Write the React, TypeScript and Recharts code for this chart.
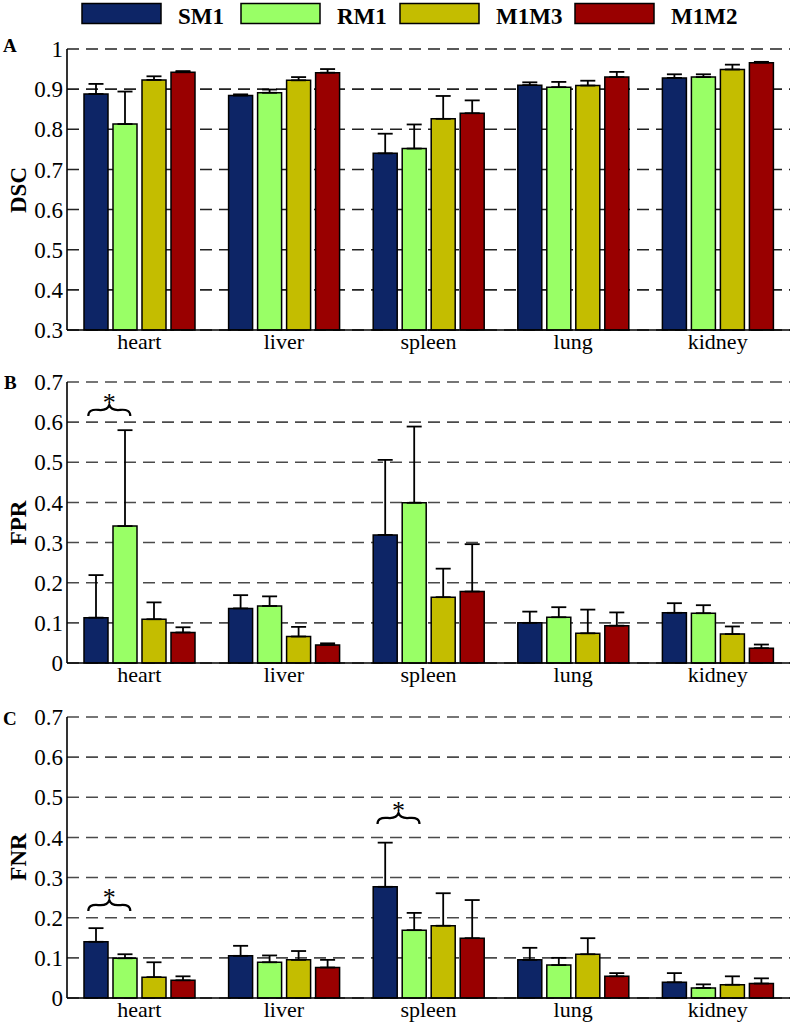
import {
  Bar,
  BarChart,
  CartesianGrid,
  ErrorBar,
  ReferenceDot,
  XAxis,
  YAxis,
} from "recharts";

const organs = ["heart", "liver", "spleen", "lung", "kidney"];
const methods = ["SM1", "RM1", "M1M3", "M1M2"];

// rows follow `methods`, columns follow `organs`
const dscMean = [
  [0.888, 0.884, 0.74, 0.91, 0.928],
  [0.813, 0.891, 0.752, 0.905, 0.93],
  [0.923, 0.922, 0.826, 0.909, 0.949],
  [0.942, 0.941, 0.84, 0.93, 0.966],
];
const dscErr = [
  [0.025, 0.003, 0.049, 0.007, 0.009],
  [0.081, 0.008, 0.06, 0.013, 0.007],
  [0.009, 0.008, 0.057, 0.012, 0.012],
  [0.003, 0.009, 0.032, 0.013, 0.002],
];

const fprMean = [
  [0.113, 0.136, 0.319, 0.1, 0.125],
  [0.341, 0.142, 0.399, 0.114, 0.124],
  [0.109, 0.066, 0.164, 0.074, 0.072],
  [0.076, 0.045, 0.178, 0.093, 0.037],
];
const fprErr = [
  [0.106, 0.033, 0.187, 0.028, 0.024],
  [0.239, 0.024, 0.19, 0.025, 0.02],
  [0.042, 0.024, 0.071, 0.059, 0.019],
  [0.013, 0.004, 0.118, 0.033, 0.009],
];

const fnrMean = [
  [0.14, 0.105, 0.277, 0.095, 0.039],
  [0.099, 0.089, 0.169, 0.082, 0.025],
  [0.052, 0.095, 0.18, 0.109, 0.033],
  [0.044, 0.076, 0.149, 0.054, 0.036],
];
const fnrErr = [
  [0.034, 0.025, 0.11, 0.03, 0.023],
  [0.01, 0.017, 0.043, 0.018, 0.009],
  [0.037, 0.022, 0.081, 0.04, 0.021],
  [0.01, 0.019, 0.095, 0.008, 0.013],
];

const dscTicks = [0.3, 0.4, 0.5, 0.6, 0.7, 0.8, 0.9, 1];
const rateTicks = [0, 0.1, 0.2, 0.3, 0.4, 0.5, 0.6, 0.7];

// significance braces (over SM1 vs RM1)
const fprStars = [{ organ: "heart", y: 0.643 }];
const fnrStars = [
  { organ: "heart", y: 0.244 },
  { organ: "spleen", y: 0.461 },
];

const colors = ["#0d2566", "#99ff66", "#c4bd00", "#990000"];
const serif = "'Liberation Serif', 'Times New Roman', serif";

function buildRows(mean: number[][], err: number[][]) {
  return organs.map((organ, i) => {
    const row: Record<string, any> = { organ };
    methods.forEach((m, k) => {
      row[m] = mean[k][i];
      row[m + "Err"] = [0, err[k][i]];
    });
    return row;
  });
}

function Brace(props: any) {
  const { cx, cy } = props;
  if (cx == null || cy == null) return <g />;
  const x = cx - 30;
  const y = cy;
  const d =
    `M ${x - 21} ${y + 11} Q ${x - 21} ${y + 4} ${x - 11} ${y + 5} ` +
    `Q ${x - 2} ${y + 6} ${x} ${y} Q ${x + 2} ${y + 6} ${x + 11} ${y + 5} ` +
    `Q ${x + 21} ${y + 4} ${x + 21} ${y + 11}`;
  return (
    <g>
      <path d={d} fill="none" stroke="#000" strokeWidth={2.2} />
      <text x={x} y={y + 6} textAnchor="middle" fontFamily={serif} fontSize={26}>
        *
      </text>
    </g>
  );
}

type PanelProps = {
  top: number;
  data: Record<string, any>[];
  domain: [number, number];
  ticks: number[];
  stars: { organ: string; y: number }[];
  gridColor: string;
};

function Panel({ top, data, domain, ticks, stars, gridColor }: PanelProps) {
  return (
    <div style={{ position: "absolute", left: 0, top }}>
      <BarChart
        width={800}
        height={331}
        data={data}
        margin={{ top: 20, right: 10, bottom: 0, left: 0 }}
        barSize={24}
        barGap={5}
      >
        <CartesianGrid
          vertical={false}
          stroke={gridColor}
          strokeWidth={1.6}
          strokeDasharray="12 7"
        />
        <XAxis
          dataKey="organ"
          height={30}
          tickLine={false}
          tickSize={0}
          tickMargin={3}
          axisLine={{ stroke: "#000", strokeWidth: 1.6 }}
          tick={{ fill: "#000", fontSize: 22, fontFamily: serif }}
        />
        <YAxis
          width={67}
          domain={domain}
          ticks={ticks}
          interval={0}
          tickLine={false}
          tickSize={0}
          tickMargin={4}
          axisLine={{ stroke: "#000", strokeWidth: 1.6 }}
          tick={{ fill: "#000", fontSize: 23, fontFamily: serif }}
        />
        {methods.map((m, k) => (
          <Bar
            key={m}
            dataKey={m}
            fill={colors[k]}
            stroke="#000"
            strokeWidth={1.5}
            isAnimationActive={false}
          >
            <ErrorBar
              dataKey={m + "Err"}
              direction="y"
              width={7.5}
              stroke="#000"
              strokeWidth={1.8}
              isAnimationActive={false}
            />
          </Bar>
        ))}
        {stars.map((s) => (
          <ReferenceDot
            key={s.organ}
            x={s.organ}
            y={s.y}
            r={0}
            ifOverflow="visible"
            shape={Brace}
          />
        ))}
      </BarChart>
    </div>
  );
}

const legendX = [82, 241, 400, 575];

export default function App() {
  return (
    <div
      style={{
        position: "fixed",
        left: 0,
        top: 0,
        width: 800,
        height: 1024,
        overflow: "hidden",
        background: "#fff",
      }}
    >
      <Panel top={29} data={buildRows(dscMean, dscErr)} domain={[0.3, 1]} ticks={dscTicks} stars={[]} gridColor="#222" />
      <Panel top={362} data={buildRows(fprMean, fprErr)} domain={[0, 0.7]} ticks={rateTicks} stars={fprStars} gridColor="#4a4a4a" />
      <Panel top={697} data={buildRows(fnrMean, fnrErr)} domain={[0, 0.7]} ticks={rateTicks} stars={fnrStars} gridColor="#4a4a4a" />

      <svg
        width={800}
        height={1024}
        style={{ position: "absolute", left: 0, top: 0, pointerEvents: "none" }}
      >
        {methods.map((m, k) => (
          <g key={m}>
            <rect
              x={legendX[k]}
              y={3.5}
              width={79}
              height={20}
              fill={colors[k]}
              stroke="#000"
              strokeWidth={1.5}
            />
            <text
              x={legendX[k] + 96}
              y={24}
              fontFamily={serif}
              fontWeight="bold"
              fontSize={23}
            >
              {m}
            </text>
          </g>
        ))}
        <g fontFamily={serif} fontWeight="bold" fontSize={19}>
          <text x={3} y={52}>A</text>
          <text x={4} y={389}>B</text>
          <text x={3} y={725}>C</text>
        </g>
        <g fontFamily={serif} fontWeight="bold" fontSize={23} textAnchor="middle">
          <text transform="translate(26 190) rotate(-90)">DSC</text>
          <text transform="translate(26 523) rotate(-90)">FPR</text>
          <text transform="translate(26 857) rotate(-90)">FNR</text>
        </g>
      </svg>
    </div>
  );
}
